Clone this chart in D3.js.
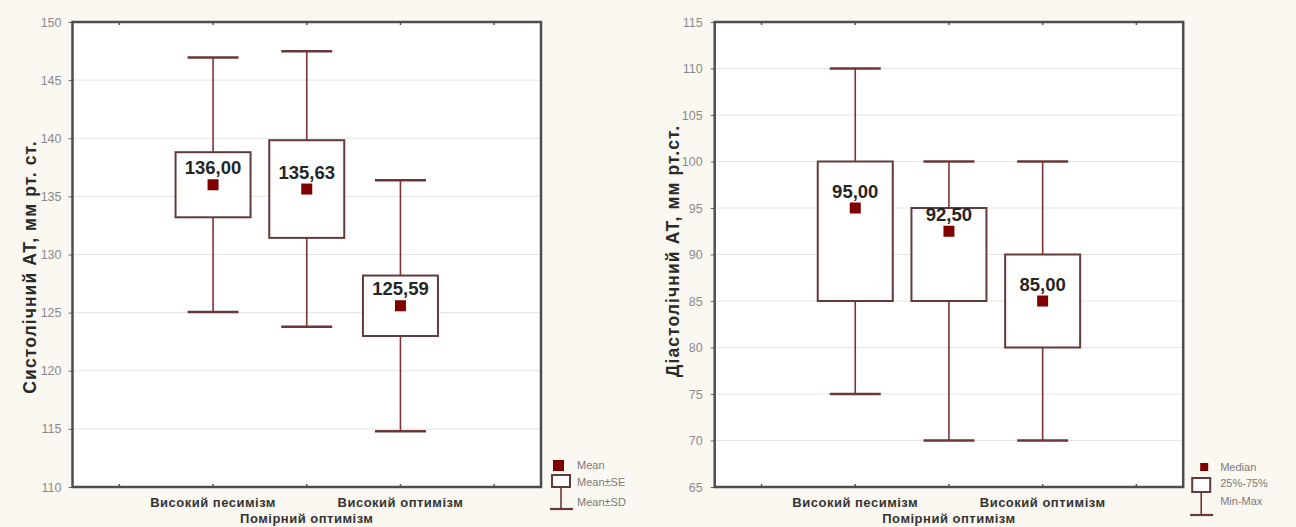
<!DOCTYPE html>
<html>
<head>
<meta charset="utf-8">
<script src="https://cdn.jsdelivr.net/npm/d3@7"></script>
<style>
  body { margin: 0; background: #fbf8f1; }
  svg { display: block; }
</style>
</head>
<body>
<div id="chart"></div>
<script>
// categories (Statistica puts them in slots 2..4 of 5)
var categories = ["Високий песимізм", "Помірний оптимізм", "Високий оптимізм"];

// systolic: mean, SE, SD
var sysMean = [136.00, 135.63, 125.59];
var sysSE = [2.8, 4.2, 2.6];
var sysSD = [10.95, 11.85, 10.8];
var sysTicks = [110, 115, 120, 125, 130, 135, 140, 145, 150];

// diastolic: median, quartiles, min-max
var diaMedian = [95.00, 92.50, 85.00];
var diaQ1 = [85, 85, 80];
var diaQ3 = [100, 95, 90];
var diaMin = [75, 70, 70];
var diaMax = [110, 100, 100];
var diaTicks = [65, 70, 75, 80, 85, 90, 95, 100, 105, 110, 115];

var sysLegend = ["Mean", "Mean±SE", "Mean±SD"];
var diaLegend = ["Median", "25%-75%", "Min-Max"];

var fmt = d3.formatLocale({ decimal: ",", thousands: " ", grouping: [3], currency: ["", ""] }).format(".2f");

var svg = d3.select("#chart").append("svg")
  .attr("width", 1296)
  .attr("height", 527);

var boxColor = "#633a3a";
var whiskColor = "#7a3434";
var markColor = "#800000";

function drawPanel(p) {
  var height = 465, width = 468.5;
  var g = svg.append("g").attr("transform", "translate(" + p.left + ",22)");

  var y = d3.scaleLinear().domain([p.ticks[0], p.ticks[p.ticks.length - 1]]).range([height, 0]);
  var x = d3.scaleBand().domain(d3.range(5)).range([0, width]);
  function cx(i) { return x(i + 1) + x.bandwidth() / 2; }

  // plot background
  g.append("rect").attr("width", width).attr("height", height).attr("fill", "#fff");

  // grid
  g.selectAll(".grid").data(p.ticks.slice(1, -1)).enter().append("line")
    .attr("x1", 0).attr("x2", width)
    .attr("y1", function(d) { return y(d); }).attr("y2", function(d) { return y(d); })
    .attr("stroke", "#e4e4e4").attr("stroke-width", 1);

  // y axis
  var ya = g.append("g")
    .call(d3.axisLeft(y).tickValues(p.ticks).tickSize(4).tickPadding(p.pad).tickFormat(d3.format("d")));
  ya.select(".domain").remove();
  ya.selectAll("line").attr("stroke", "#666");
  ya.selectAll("text").attr("fill", "#8a8a8a").style("font-family", "Liberation Sans, Arial, sans-serif").style("font-size", "12.5px");

  // slot ticks top and bottom
  g.selectAll(".tt").data(d3.range(5)).enter().append("line")
    .attr("x1", function(d) { return x(d) + x.bandwidth() / 2; })
    .attr("x2", function(d) { return x(d) + x.bandwidth() / 2; })
    .attr("y1", 0).attr("y2", 3).attr("stroke", "#555").attr("stroke-width", 1.5);
  g.selectAll(".tb").data(d3.range(5)).enter().append("line")
    .attr("x1", function(d) { return x(d) + x.bandwidth() / 2; })
    .attr("x2", function(d) { return x(d) + x.bandwidth() / 2; })
    .attr("y1", height).attr("y2", height - 3).attr("stroke", "#555").attr("stroke-width", 1.5);

  // whiskers
  var rows = categories.map(function(c, i) {
    return { i: i, c: p.center[i], lo: p.lo[i], hi: p.hi[i], wlo: p.wlo[i], whi: p.whi[i] };
  });
  var bw = 75, cw = 51;
  var gr = g.selectAll(".grp").data(rows).enter().append("g");
  gr.append("line")
    .attr("x1", function(d) { return cx(d.i); }).attr("x2", function(d) { return cx(d.i); })
    .attr("y1", function(d) { return y(d.whi); }).attr("y2", function(d) { return y(d.wlo); })
    .attr("stroke", whiskColor).attr("stroke-width", 1.6);
  gr.selectAll(".cap").data(function(d) { return [d.wlo, d.whi].map(function(v) { return { i: d.i, v: v }; }); })
    .enter().append("line")
    .attr("x1", function(d) { return cx(d.i) - cw / 2; }).attr("x2", function(d) { return cx(d.i) + cw / 2; })
    .attr("y1", function(d) { return y(d.v); }).attr("y2", function(d) { return y(d.v); })
    .attr("stroke", "#6a3838").attr("stroke-width", 2.4);
  gr.append("rect")
    .attr("x", function(d) { return cx(d.i) - bw / 2; })
    .attr("y", function(d) { return y(d.hi); })
    .attr("width", bw)
    .attr("height", function(d) { return y(d.lo) - y(d.hi); })
    .attr("fill", "#fff").attr("stroke", boxColor).attr("stroke-width", 2);
  gr.append("rect")
    .attr("x", function(d) { return cx(d.i) - 5.5; })
    .attr("y", function(d) { return y(d.c) - 5.5; })
    .attr("width", 11).attr("height", 11)
    .attr("fill", markColor);
  gr.append("text")
    .attr("x", function(d) { return cx(d.i); })
    .attr("y", function(d) { return y(d.c) - 10.5; })
    .attr("text-anchor", "middle")
    .attr("fill", "#262626")
    .style("font-family", "Liberation Sans, Arial, sans-serif")
    .style("font-weight", "bold")
    .style("font-size", "18.5px")
    .text(function(d) { return fmt(d.c); });

  // frame
  g.append("rect").attr("width", width).attr("height", height)
    .attr("fill", "none").attr("stroke", "#4d4d4d").attr("stroke-width", 2.5);

  // category labels, staggered
  g.selectAll(".cat").data(categories).enter().append("text")
    .attr("x", function(d, i) { return cx(i); })
    .attr("y", function(d, i) { return i % 2 ? height + 36 : height + 20; })
    .attr("text-anchor", "middle")
    .attr("fill", "#333")
    .style("font-family", "Liberation Sans, Arial, sans-serif")
    .style("font-weight", "bold")
    .style("font-size", "13px")
    .style("letter-spacing", "0.5px")
    .text(function(d) { return d; });

  // y title
  svg.append("text")
    .attr("transform", "translate(" + p.titleX + "," + p.titleY + ") rotate(-90)")
    .attr("text-anchor", "middle")
    .attr("fill", "#2a2a2a")
    .style("font-family", "Liberation Sans, Arial, sans-serif")
    .style("font-weight", "bold")
    .style("font-size", "17.5px")
    .style("letter-spacing", "1.1px")
    .text(p.title);

  // legend
  var lx = p.left + width;
  var L = p.leg;
  var lg = svg.append("g").attr("transform", "translate(" + lx + ",0)");
  lg.append("rect").attr("x", L.sqX).attr("y", L.sqY).attr("width", L.sq).attr("height", L.sq).attr("fill", markColor);
  lg.append("line").attr("x1", L.bx + 9).attr("x2", L.bx + 9).attr("y1", L.by + 12).attr("y2", L.capY)
    .attr("stroke", whiskColor).attr("stroke-width", 1.6);
  lg.append("line").attr("x1", L.bx - 2).attr("x2", L.bx + 21).attr("y1", L.capY).attr("y2", L.capY)
    .attr("stroke", "#6a3838").attr("stroke-width", 2.2);
  lg.append("rect").attr("x", L.bx).attr("y", L.by).attr("width", 18).attr("height", L.bh)
    .attr("fill", "#fff").attr("stroke", boxColor).attr("stroke-width", 2);
  lg.selectAll(".lt").data(p.legend).enter().append("text")
    .attr("x", L.tx)
    .attr("y", function(d, i) { return L.ty[i]; })
    .attr("dy", "0.35em")
    .attr("fill", "#7a7a7a")
    .style("font-family", "Liberation Sans Narrow, Arial Narrow, Liberation Sans, sans-serif")
    .style("font-size", "11px")
    .text(function(d) { return d; });
}

drawPanel({
  left: 72.5, ticks: sysTicks, pad: 7,
  center: sysMean,
  lo: sysMean.map(function(m, i) { return m - sysSE[i]; }),
  hi: sysMean.map(function(m, i) { return m + sysSE[i]; }),
  wlo: sysMean.map(function(m, i) { return m - sysSD[i]; }),
  whi: sysMean.map(function(m, i) { return m + sysSD[i]; }),
  title: "Систолічний АТ, мм рт. ст.", titleX: 36, titleY: 267,
  legend: sysLegend,
  leg: { sqX: 12, sqY: 460, sq: 11, bx: 11, by: 475, bh: 12, capY: 509, tx: 36, ty: [465, 482, 502] }
});

drawPanel({
  left: 714.7, ticks: diaTicks, pad: 8,
  center: diaMedian,
  lo: diaQ1, hi: diaQ3, wlo: diaMin, whi: diaMax,
  title: "Діастолічний АТ, мм рт.ст.", titleX: 679, titleY: 251,
  legend: diaLegend,
  leg: { sqX: 17, sqY: 463, sq: 8, bx: 9, by: 478, bh: 14, capY: 515, tx: 37, ty: [467, 483, 501] }
});
</script>
</body>
</html>
